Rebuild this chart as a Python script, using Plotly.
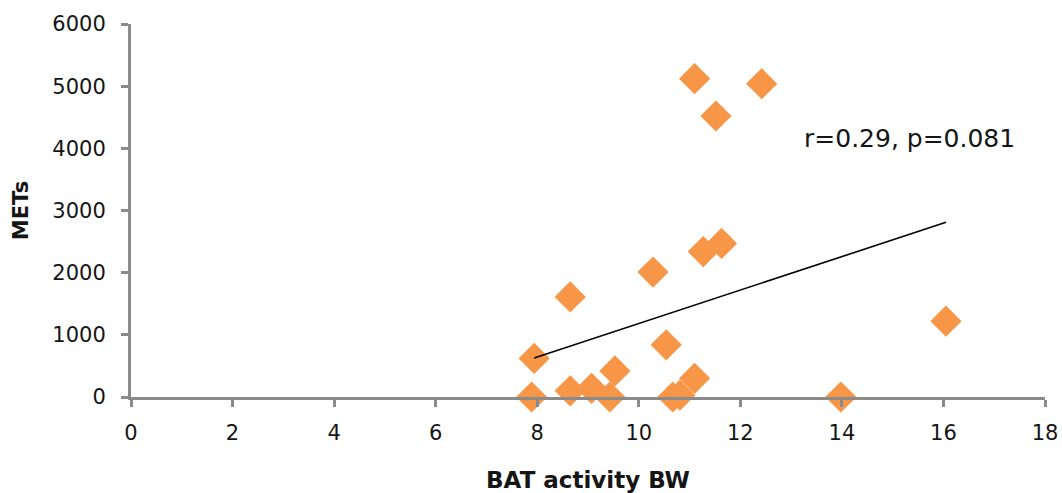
import plotly.graph_objects as go

# data
bat_activity = [7.89, 7.94, 8.65, 8.65, 9.07, 9.43, 9.53, 10.28, 10.54, 10.67,
                10.81, 11.10, 11.10, 12.42, 11.52, 11.27, 11.63, 16.05, 13.98]
mets = [0, 620, 1610, 100, 140, 0, 420, 2010, 840, 0,
        30, 300, 5120, 5040, 4520, 2340, 2470, 1220, 0]
trend_x = [7.94, 16.05]
trend_y = [627, 2810]
x_ticks = [0, 2, 4, 6, 8, 10, 12, 14, 16, 18]
y_ticks = [0, 1000, 2000, 3000, 4000, 5000, 6000]
annotation_text = "r=0.29, p=0.081"

FONT = "DejaVu Sans"
axis_color = "#8a8a8a"
text_color = "#151515"

fig = go.Figure()
fig.add_trace(go.Scatter(
    x=bat_activity, y=mets, mode="markers",
    marker=dict(symbol="diamond", size=24, color="#F79646", line=dict(width=0)),
    showlegend=False, cliponaxis=False,
))
fig.add_trace(go.Scatter(
    x=trend_x, y=trend_y, mode="lines",
    line=dict(color="black", width=1.6), showlegend=False,
))

fig.add_annotation(
    x=15.33, y=4166, text=annotation_text, showarrow=False,
    font=dict(family=FONT, size=25, color=text_color), xanchor="center", yanchor="middle",
)

fig.update_layout(
    width=1062, height=493,
    margin=dict(l=131, r=17, t=24, b=96),
    paper_bgcolor="white", plot_bgcolor="white",
    font=dict(family=FONT, color=text_color),
)
fig.update_xaxes(
    range=[0, 18], tickvals=x_ticks, showgrid=False, zeroline=False,
    showline=True, linecolor=axis_color, linewidth=3, automargin=False,
    ticks="outside", tickcolor=axis_color, ticklen=7, tickwidth=3,
    tickfont=dict(family=FONT, size=21, color=text_color),
    ticklabelstandoff=8,
    title=dict(text="<b>BAT activity BW</b>", font=dict(family=FONT, size=23, color=text_color), standoff=28),
)
fig.update_yaxes(
    range=[0, 6000], tickvals=y_ticks, showgrid=False, zeroline=False,
    showline=True, linecolor=axis_color, linewidth=3, automargin=False,
    ticks="outside", tickcolor=axis_color, ticklen=7, tickwidth=3,
    tickfont=dict(family=FONT, size=21, color=text_color),
    ticklabelstandoff=11,
    title=dict(text="<b>METs</b>", font=dict(family=FONT, size=21, color=text_color), standoff=18),
)

fig.write_html("out.html", config={"displayModeBar": False},
               post_script="document.body.style.margin='0px';")
